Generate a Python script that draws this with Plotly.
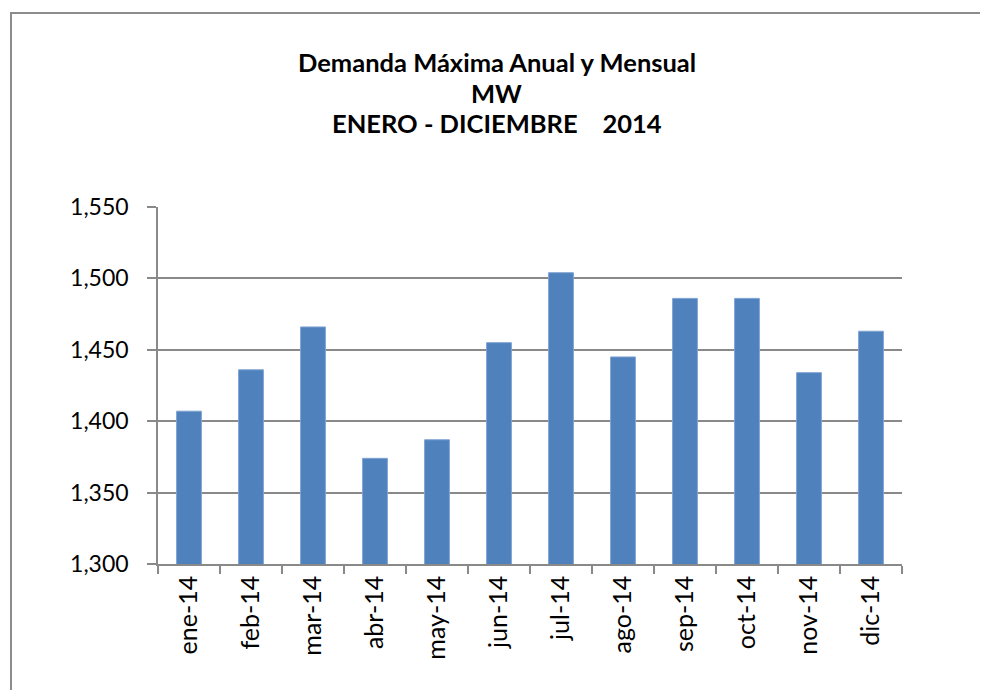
import plotly.graph_objects as go

months = ["ene-14", "feb-14", "mar-14", "abr-14", "may-14", "jun-14",
          "jul-14", "ago-14", "sep-14", "oct-14", "nov-14", "dic-14"]
demand_mw = [1407, 1436, 1466, 1374, 1387, 1455, 1504, 1445, 1486, 1486, 1434, 1463]
y_ticks = [1300, 1350, 1400, 1450, 1500, 1550]
title_lines = ["Demanda Máxima Anual y Mensual", "MW", "ENERO - DICIEMBRE    2014"]

FONT = "Lato, 'Open Sans', sans-serif"
GRID = "#898989"

fig = go.Figure()

fig.add_trace(go.Bar(
    x=months, y=demand_mw,
    marker=dict(color="#4F81BD", line=dict(color="#7FA3D3", width=1)),
))

# --- three-line title, Excel style ---
for text, ypos in zip(title_lines, [1.406, 1.320, 1.234]):
    fig.add_annotation(
        text=text.replace("    ", "&nbsp;&nbsp;&nbsp;&nbsp;"),
        xref="paper", yref="paper", x=0.4556, y=ypos,
        showarrow=False, xanchor="center", yanchor="middle",
        font=dict(family=FONT, size=25.5, color="#000000", weight="bold"),
    )

# --- outer chart frame ---
fig.add_shape(
    type="rect", xref="paper", yref="paper",
    x0=-0.1976, x1=1.1075, y0=-0.40, y1=1.5434,
    line=dict(color="#8c8c8c", width=2),
)

# page body has an 8px margin, so the figure is a bit smaller than the window
fig.update_layout(
    width=980, height=682,
    paper_bgcolor="white", plot_bgcolor="white",
    margin=dict(l=150, r=86, t=199, b=126),
    bargap=0.6,
    showlegend=False,
    font=dict(family=FONT, size=23, color="#000000"),
)
fig.update_xaxes(
    showline=True, linecolor=GRID, linewidth=1.5,
    ticks="outside", tickson="boundaries", ticklen=8, tickcolor=GRID, tickwidth=1.5,
    tickangle=-90, tickfont=dict(size=25),
    showgrid=False,
)
fig.update_yaxes(
    range=[1300, 1550], tickvals=y_ticks, tickformat=",d",
    showline=True, linecolor=GRID, linewidth=1.5,
    ticks="outside", ticklen=9, tickcolor=GRID, tickwidth=1.5,
    ticklabelstandoff=14,
    showgrid=True, gridcolor=GRID, gridwidth=1.5,
    zeroline=False,
)

fig.write_html("out.html")
